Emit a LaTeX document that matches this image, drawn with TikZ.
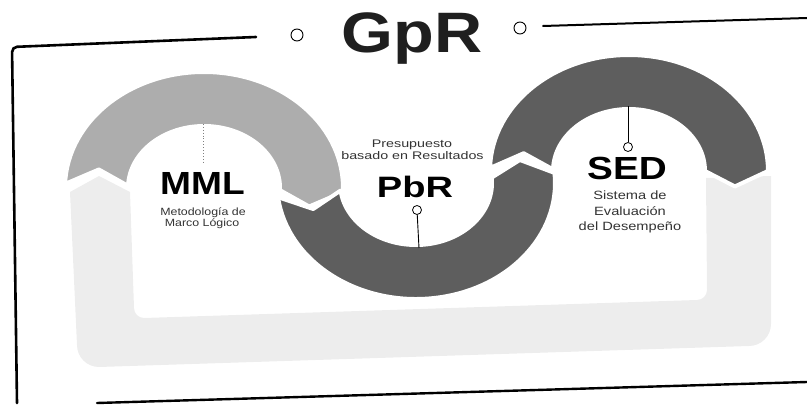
\documentclass[tikz,border=0pt]{standalone}
\usepackage{fontspec}
\setmainfont{Liberation Sans}
\usepackage{graphicx}
\newcommand{\hs}[2]{\scalebox{#1}[1]{#2}}
\definecolor{lightarc}{gray}{0.68}
\definecolor{darkarc}{gray}{0.37}
\definecolor{ufill}{gray}{0.93}
\definecolor{titlegray}{gray}{0.12}
\begin{document}
\begin{tikzpicture}[x=1pt,y=-1pt,line join=round]
\tikzset{
  frameline/.style={draw=black, line width=2pt, line cap=round},
  piece/.style={draw=white, line width=4pt, line join=round},
  stemdot/.style={circle, draw=black, fill=white, line width=0.8pt, minimum size=9pt, inner sep=0pt},
  titledot/.style={circle, draw=black, fill=white, line width=0.9pt, minimum size=12pt, inner sep=0pt},
  stem/.style={draw=black, line width=0.9pt},
  head/.style={font=\bfseries\fontsize{32}{36}\selectfont, anchor=base, inner sep=0pt, text=black},
  sub/.style={font=\fontsize{11}{13}\selectfont, anchor=base, inner sep=0pt, text=black!80}
}
\useasboundingbox (0,0) rectangle (807,406);

% frame
\draw[frameline, line width=2.6pt, rounded corners=5pt] (17,403) -- (12,47) -- (256,37);
\draw[frameline] (543,26) -- (807,18);
\draw[frameline, line width=2.4pt] (97,403) -- (807,382);

% dotted U band
\fill[ufill] (70,192) -- (77,345) arc[start angle=180, end angle=90, radius=22]
  -- (749,346) arc[start angle=90, end angle=0, radius=22]
  -- (771,176) -- (706,178) -- (707,290) arc[start angle=0, end angle=90, radius=10]
  -- (144,318) arc[start angle=90, end angle=180, radius=10]
  -- (130,192) -- (99,176) -- cycle;

% MML arc
\begin{scope}[shift={(204,188)}]
\filldraw[piece, fill=lightarc] (182:139 and 116) arc[start angle=182, end angle=362, x radius=139, y radius=116]
  -- (372:107.5 and 89) -- (362:76 and 62) arc[start angle=362, end angle=182, x radius=76, y radius=62]
  -- (192:107.5 and 89) -- cycle;
\end{scope}
% PbR arc
\begin{scope}[shift={(416,183)}]
\filldraw[piece, fill=darkarc] (173:139 and 116) arc[start angle=173, end angle=-5, x radius=139, y radius=116]
  -- (-15:107.5 and 89) -- (-5:76 and 62) arc[start angle=-5, end angle=173, x radius=76, y radius=62]
  -- (163:107.5 and 89) -- cycle;
\end{scope}
% SED arc
\begin{scope}[shift={(629,171)}]
\filldraw[piece, fill=darkarc] (181.5:139 and 116) arc[start angle=181.5, end angle=360, x radius=139, y radius=116]
  -- (370:107.5 and 89) -- (360:76 and 62) arc[start angle=360, end angle=181.5, x radius=76, y radius=62]
  -- (191.5:107.5 and 89) -- cycle;
\end{scope}

% stems
\coordinate (mmltop) at (203,124);
\coordinate (mmlend) at (203,164);
\draw[gray, dotted, line width=0.9pt] (mmltop) -- (mmlend);
\node[stemdot] (pbrdot) at (417,210) {};
\coordinate (pbrbase) at (419,248);
\draw[stem] (pbrdot) -- (pbrbase);
\node[stemdot] (seddot) at (628,147) {};
\coordinate (sedtop) at (628,106);
\draw[stem] (seddot) -- (sedtop);

% title
\node[titledot] (tdotl) at (297,35) {};
\node[titledot] (tdotr) at (520,28) {};
\node[head, font=\bfseries\fontsize{57}{60}\selectfont, text=titlegray] (gpr) at (412,53) {\hs{1.17}{GpR}};

% headings
\node[head] (mml) at (202.5,195) {\hs{1.16}{MML}};
\node[head, font=\bfseries\fontsize{29.5}{33}\selectfont] (pbr) at (415,198) {\hs{1.29}{PbR}};
\node[head] (sed) at (627,180) {\hs{1.21}{SED}};

% subtitles
\node[sub, font=\fontsize{10.5}{12}\selectfont] (mml1) at (203,215.5) {\hs{1.18}{Metodología de}};
\node[sub, font=\fontsize{10.5}{12}\selectfont] (mml2) at (202,226.5) {\hs{1.18}{Marco Lógico}};
\node[sub] (pbr1) at (412,147.5) {\hs{1.3}{Presupuesto}};
\node[sub] (pbr2) at (412.5,159.5) {\hs{1.3}{basado en Resultados}};
\node[sub, font=\fontsize{12}{14}\selectfont] (sed1) at (630,199.5) {\hs{1.22}{Sistema de}};
\node[sub, font=\fontsize{12}{14}\selectfont] (sed2) at (630,215.5) {\hs{1.22}{Evaluación}};
\node[sub, font=\fontsize{12}{14}\selectfont] (sed3) at (630,230.5) {\hs{1.22}{del Desempeño}};
\end{tikzpicture}
\end{document}
